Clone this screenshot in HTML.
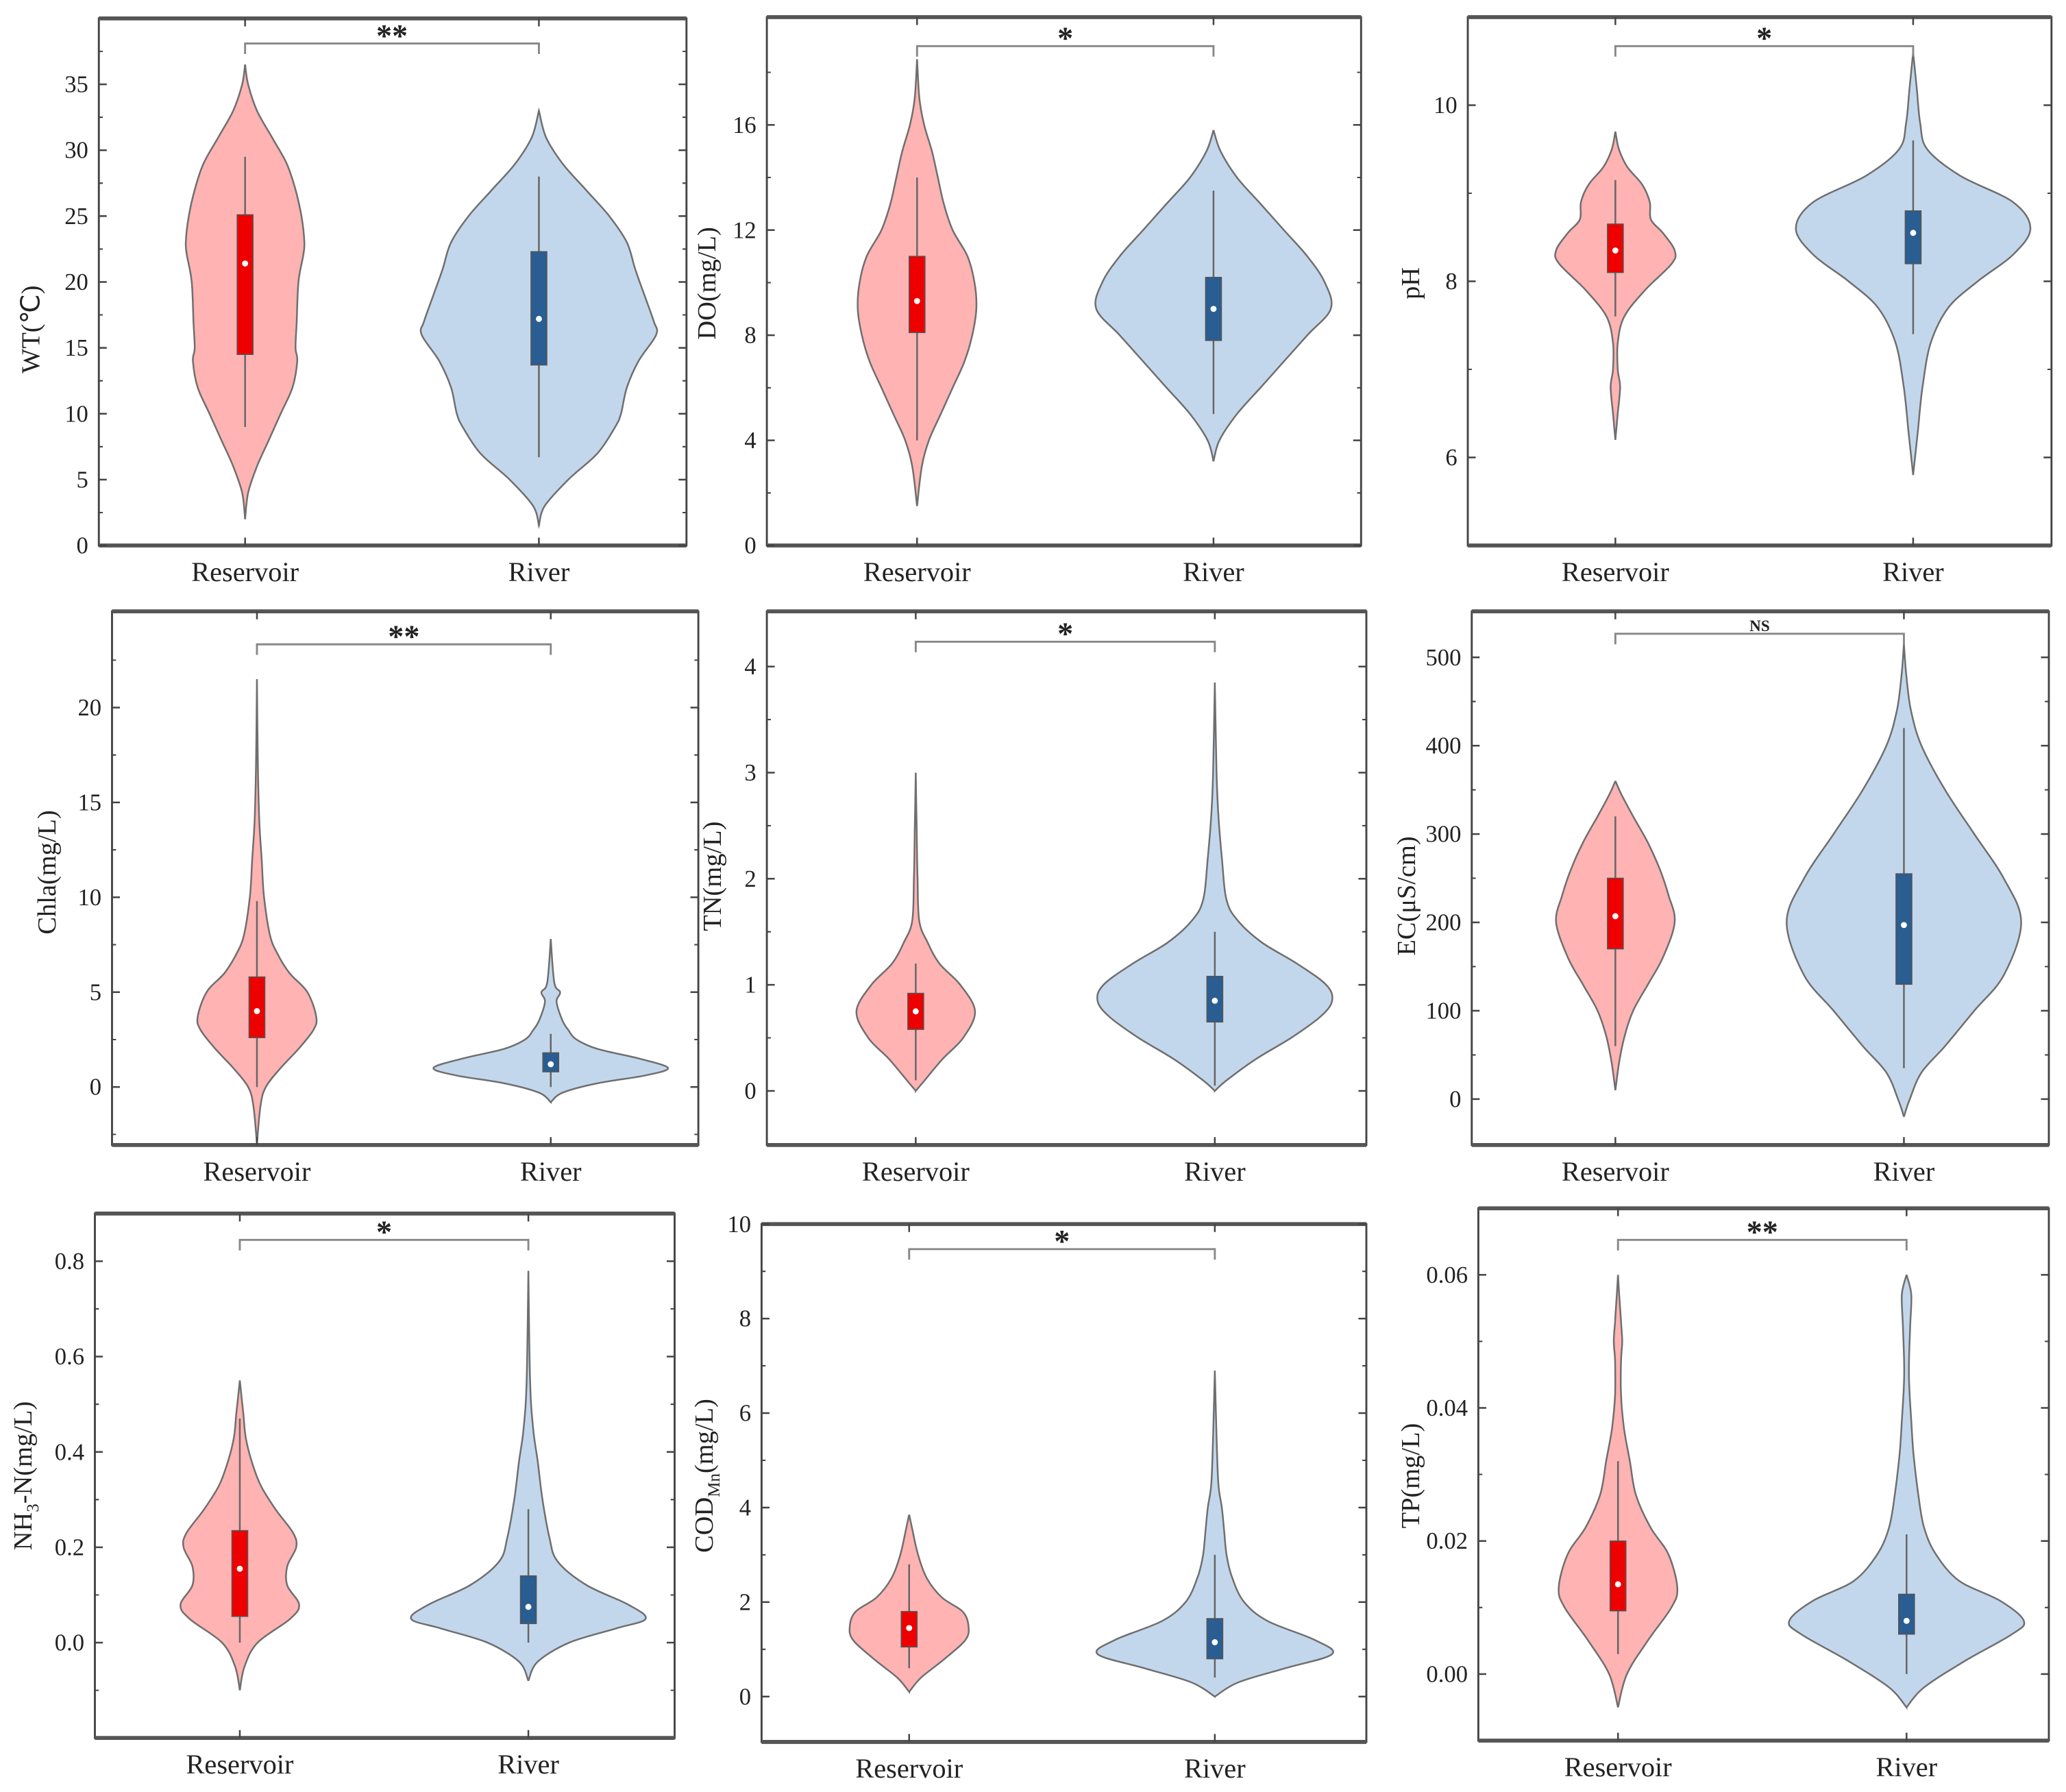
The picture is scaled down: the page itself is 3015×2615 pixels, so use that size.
<!DOCTYPE html>
<html><head><meta charset="utf-8">
<style>
html,body{margin:0;padding:0;background:#fff;}
svg{display:block;}
text{font-family:"Liberation Serif",serif;fill:#222;}
</style></head>
<body>
<svg id="chart" width="3015" height="2615" viewBox="0 0 1568 1360" xmlns="http://www.w3.org/2000/svg"></svg>
<script>
const categories = ['Reservoir','River'];

// WT
const wtTicks = [0,5,10,15,20,25,30,35];
const wtResVals = [2,4,6,8,10,12,14,15,17,20,22,23,25,27,29,31,33,35,36.5];
const wtResDens = [0,0.05,0.2,0.4,0.6,0.8,0.88,0.85,0.87,0.9,0.98,1,0.95,0.85,0.7,0.45,0.2,0.05,0];
const wtResBox = [14.5,21.4,25.1,9,29.5];
const wtRivVals = [1.5,3,5,7,9,10,12,14,16,17,19,21,23,25,27,29,31,33];
const wtRivDens = [0,0.05,0.25,0.5,0.65,0.7,0.75,0.85,1,0.98,0.9,0.82,0.75,0.6,0.4,0.2,0.06,0];
const wtRivBox = [13.7,17.2,22.3,6.7,28];
// DO
const doTicks = [0,4,8,12,16];
const doResVals = [1.5,3,4,5,6,7,8,9,10,11,12,13,14,15,16,17,18.5];
const doResDens = [0,0.08,0.2,0.4,0.6,0.8,0.93,1,0.97,0.85,0.6,0.45,0.35,0.25,0.12,0.04,0];
const doResBox = [8.1,9.3,11,4,14];
const doRivVals = [3.2,4,5,6,7,8,9,10,11,12,13,14,15,15.8];
const doRivDens = [0,0.05,0.2,0.4,0.6,0.8,1,0.95,0.8,0.6,0.4,0.2,0.06,0];
const doRivBox = [7.8,9,10.2,5,13.5];
// pH
const phTicks = [6,8,10];
const phResVals = [6.2,6.5,6.8,7.0,7.3,7.6,7.9,8.2,8.35,8.55,8.7,8.9,9.1,9.3,9.5,9.7];
const phResDens = [0,0.04,0.08,0.04,0.04,0.15,0.5,0.95,1,0.8,0.6,0.58,0.45,0.2,0.06,0];
const phResBox = [8.1,8.35,8.65,7.6,9.15];
const phRivVals = [5.8,6.3,6.8,7.3,7.7,8.0,8.3,8.6,8.9,9.2,9.5,9.8,10.2,10.6];
const phRivDens = [0,0.04,0.08,0.15,0.3,0.55,0.85,1,0.85,0.4,0.12,0.06,0.03,0];
const phRivBox = [8.2,8.55,8.8,7.4,9.6];
// Chla
const chTicks = [0,5,10,15,20];
const chResVals = [-3,-1,0,1,2,3,3.7,5,6,7,8,10,12,14,17,21.5];
const chResDens = [0,0.06,0.15,0.4,0.7,0.95,1,0.85,0.55,0.35,0.22,0.12,0.08,0.04,0.015,0];
const chResBox = [2.6,4,5.8,0,9.8];
const chRivVals = [-0.8,-0.3,0.2,0.6,1.0,1.5,2,2.5,3,3.5,4.5,5,5.5,7.8];
const chRivDens = [0,0.1,0.4,0.8,1,0.75,0.4,0.22,0.15,0.1,0.05,0.08,0.03,0];
const chRivBox = [0.8,1.2,1.8,0,2.8];
// TN
const tnTicks = [0,1,2,3,4];
const tnResVals = [0,0.1,0.3,0.5,0.75,1.0,1.2,1.4,1.6,2,2.5,3];
const tnResDens = [0,0.15,0.45,0.8,1,0.75,0.4,0.2,0.06,0.03,0.015,0];
const tnResBox = [0.58,0.75,0.92,0.1,1.2];
const tnRivVals = [0,0.1,0.3,0.5,0.7,0.85,1.0,1.2,1.4,1.6,1.8,2.2,2.6,3,3.85];
const tnRivDens = [0,0.1,0.35,0.65,0.9,1,0.95,0.7,0.4,0.2,0.1,0.06,0.03,0.015,0];
const tnRivBox = [0.65,0.85,1.08,0.05,1.5];
// EC
const ecTicks = [0,100,200,300,400,500];
const ecResVals = [10,40,70,100,130,160,200,230,260,290,320,345,360];
const ecResDens = [0,0.06,0.15,0.3,0.55,0.8,1,0.9,0.75,0.55,0.3,0.1,0];
const ecResBox = [170,207,250,60,320];
const ecRivVals = [-20,0,30,60,100,140,200,250,300,350,400,440,480,515];
const ecRivDens = [0,0.05,0.15,0.35,0.6,0.85,1,0.85,0.6,0.35,0.15,0.06,0.02,0];
const ecRivBox = [130,197,255,35,420];
// NH3-N
const nhTicks = [0,0.2,0.4,0.6,0.8];
const nhResVals = [-0.1,-0.05,0,0.05,0.08,0.12,0.16,0.2,0.23,0.28,0.33,0.38,0.43,0.48,0.55];
const nhResDens = [0,0.08,0.3,0.85,1,0.8,0.8,0.95,0.9,0.6,0.35,0.2,0.1,0.06,0];
const nhResBox = [0.055,0.155,0.235,0,0.47];
const nhRivVals = [-0.08,-0.04,0,0.03,0.05,0.08,0.12,0.17,0.22,0.3,0.38,0.45,0.55,0.78];
const nhRivDens = [0,0.08,0.35,0.75,1,0.85,0.5,0.25,0.18,0.12,0.08,0.04,0.015,0];
const nhRivBox = [0.04,0.075,0.14,0,0.28];
// COD
const coTicks = [0,2,4,6,8,10];
const coResVals = [0.1,0.4,0.8,1.2,1.5,1.8,2.1,2.5,3,3.5,3.85];
const coResDens = [0,0.2,0.6,0.95,1,0.9,0.55,0.3,0.15,0.06,0];
const coResBox = [1.05,1.45,1.8,0.6,2.8];
const coRivVals = [0,0.3,0.6,0.9,1.2,1.6,2,2.5,3,3.5,4,4.5,5.5,6.9];
const coRivDens = [0,0.2,0.6,1,0.85,0.45,0.25,0.15,0.1,0.08,0.06,0.03,0.015,0];
const coRivBox = [0.8,1.15,1.65,0.4,3];
// TP
const tpTicks = [0,0.02,0.04,0.06];
const tpResVals = [-0.005,0,0.005,0.01,0.013,0.018,0.022,0.027,0.032,0.037,0.042,0.047,0.05,0.053,0.057,0.06];
const tpResDens = [0,0.15,0.5,0.9,1,0.85,0.55,0.3,0.2,0.1,0.05,0.05,0.07,0.05,0.02,0];
const tpResBox = [0.0095,0.0135,0.02,0.003,0.032];
const tpRivVals = [-0.005,-0.002,0.002,0.006,0.008,0.011,0.014,0.018,0.022,0.027,0.033,0.038,0.045,0.052,0.057,0.06];
const tpRivDens = [0,0.15,0.5,0.9,1,0.8,0.45,0.25,0.15,0.1,0.06,0.04,0.02,0.03,0.04,0];
const tpRivBox = [0.006,0.008,0.012,0,0.021];

const panels = [
 {id:'wt',title:'WT(℃)',sig:'**',rect:[75,14,521,414],dom:[0,40],cx:[186,409],ticks:wtTicks,dec:0,tx:30,ty:250,br:33,
  v:[[wtResVals,wtResDens,wtResBox],[wtRivVals,wtRivDens,wtRivBox]]},
 {id:'do',title:'DO(mg/L)',sig:'*',rect:[582,13,1033,414],dom:[0,20.1],cx:[696,921],ticks:doTicks,dec:0,tx:543,ty:215,br:35,
  v:[[doResVals,doResDens,doResBox],[doRivVals,doRivDens,doRivBox]]},
 {id:'ph',title:'pH',sig:'*',rect:[1114,13,1557,414],dom:[5,11],cx:[1226,1452],ticks:phTicks,dec:0,tx:1077,ty:215,br:35,
  v:[[phResVals,phResDens,phResBox],[phRivVals,phRivDens,phRivBox]]},
 {id:'chla',title:'Chla(mg/L)',sig:'**',rect:[85,464,530,869],dom:[-3.06,25.07],cx:[195,418],ticks:chTicks,dec:0,tx:42,ty:662,br:489,
  v:[[chResVals,chResDens,chResBox],[chRivVals,chRivDens,chRivBox]]},
 {id:'tn',title:'TN(mg/L)',sig:'*',rect:[582,464,1037,869],dom:[-0.51,4.52],cx:[695,922],ticks:tnTicks,dec:0,tx:547,ty:665,br:487,
  v:[[tnResVals,tnResDens,tnResBox],[tnRivVals,tnRivDens,tnRivBox]]},
 {id:'ec',title:'EC(μS/cm)',sig:'NS',rect:[1117,464,1555,869],dom:[-52,552],cx:[1226,1445],ticks:ecTicks,dec:0,tx:1074,ty:680,br:481,
  v:[[ecResVals,ecResDens,ecResBox],[ecRivVals,ecRivDens,ecRivBox]]},
 {id:'nh',title:'NH<tspan font-size="13" dy="5">3</tspan><tspan dy="-5">-N(mg/L)</tspan>',sig:'*',rect:[72,921,512,1319],dom:[-0.2,0.9],cx:[182,401],ticks:nhTicks,dec:1,tx:24,ty:1120,br:941,
  v:[[nhResVals,nhResDens,nhResBox],[nhRivVals,nhRivDens,nhRivBox]]},
 {id:'cod',title:'COD<tspan font-size="13" dy="5">Mn</tspan><tspan dy="-5">(mg/L)</tspan>',sig:'*',rect:[578,929,1037,1322],dom:[-0.96,10],cx:[690,922],ticks:coTicks,dec:0,tx:541,ty:1120,br:948,
  v:[[coResVals,coResDens,coResBox],[coRivVals,coRivDens,coRivBox]]},
 {id:'tp',title:'TP(mg/L)',sig:'**',rect:[1122,917,1555,1321],dom:[-0.01,0.07],cx:[1228,1447],ticks:tpTicks,dec:2,tx:1077,ty:1120,br:941,
  v:[[tpResVals,tpResDens,tpResBox],[tpRivVals,tpRivDens,tpRivBox]]}
];
const styles = [{fill:'#ffb3b3',box:'#ee0000',hw:45},{fill:'#c3d7ec',box:'#2a5d91',hw:89}];
const NS='http://www.w3.org/2000/svg';
const svg=document.getElementById('chart');
function mk(tag,attrs,parent){const e=document.createElementNS(NS,tag);for(const k in attrs)e.setAttribute(k,attrs[k]);(parent||svg).appendChild(e);return e;}
function smooth(pts){let d='M'+pts[0][0]+','+pts[0][1];
 for(let i=0;i<pts.length-1;i++){const p0=pts[i-1]||pts[i],p1=pts[i],p2=pts[i+1],p3=pts[i+2]||p2;
  const c1=[p1[0]+(p2[0]-p0[0])/6,p1[1]+(p2[1]-p0[1])/6],c2=[p2[0]-(p3[0]-p1[0])/6,p2[1]-(p3[1]-p1[1])/6];
  d+=' C'+c1[0].toFixed(1)+','+c1[1].toFixed(1)+' '+c2[0].toFixed(1)+','+c2[1].toFixed(1)+' '+p2[0].toFixed(1)+','+p2[1].toFixed(1);}
 return d;}
panels.forEach(p=>{
 const [x0,y0,x1,y1]=p.rect;
 const Y=v=>y1-(v-p.dom[0])/(p.dom[1]-p.dom[0])*(y1-y0);
 const g=mk('g',{});
 
 
 // violins
 p.v.forEach((vv,i)=>{
  const [vals,dens,box]=vv,st=styles[i],cx=p.cx[i];
  const right=vals.map((v,k)=>[cx+dens[k]*st.hw,Y(v)]);
  const left=vals.map((v,k)=>[cx-dens[k]*st.hw,Y(v)]).reverse();
  const d=smooth(right)+' L'+smooth(left).slice(1)+' Z';
  const vp=mk('path',{d:d,fill:st.fill,stroke:'#6f6f6f','stroke-width':1.3},g);
  
  
  const wl=mk('line',{x1:cx,x2:cx,y1:Y(box[3]),y2:Y(box[4]),stroke:'#666','stroke-width':1.3},g);
  
  
  const bx=mk('rect',{x:cx-6,y:Y(box[2]),width:12,height:Y(box[0])-Y(box[2]),fill:st.box,stroke:'#555','stroke-width':0.8},g);
  
  
  const md=mk('circle',{cx:cx,cy:Y(box[1]),r:2.3,fill:'#fff'},g);
  
  
 });
 // frame
 const fr=mk('rect',{x:x0,y:y0,width:x1-x0,height:y1-y0,fill:'none',stroke:'#444','stroke-width':1.5},g);
 
 
 mk('line',{x1:x0,x2:x1,y1:y0,y2:y0,stroke:'#555','stroke-width':3},g);
 mk('line',{x1:x0,x2:x1,y1:y1,y2:y1,stroke:'#555','stroke-width':3},g);
 // y ticks
 const step=p.ticks[1]-p.ticks[0];
 p.ticks.forEach(t=>{
  const y=Y(t);
  mk('line',{x1:x0,x2:x0+6,y1:y,y2:y,stroke:'#444','stroke-width':1.3},g);
  mk('line',{x1:x1,x2:x1-6,y1:y,y2:y,stroke:'#444','stroke-width':1.3},g);
  [t-step/2,t+step/2].forEach(m=>{const ym=Y(m);if(ym>y0+2&&ym<y1-2){
   mk('line',{x1:x0,x2:x0+3,y1:ym,y2:ym,stroke:'#444','stroke-width':1},g);
   mk('line',{x1:x1,x2:x1-3,y1:ym,y2:ym,stroke:'#444','stroke-width':1},g);}});
  const tl=mk('text',{x:x0-8,y:y+6,'text-anchor':'end','font-size':18},g);
  tl.textContent=t.toFixed(p.dec);
  
  
 });
 // x ticks & labels
 p.cx.forEach((cx,i)=>{
  mk('line',{x1:cx,x2:cx,y1:y1,y2:y1-6,stroke:'#444','stroke-width':1.3},g);
  mk('line',{x1:cx,x2:cx,y1:y0,y2:y0+6,stroke:'#444','stroke-width':1.3},g);
  const xl=mk('text',{x:cx,y:y1+27,'text-anchor':'middle','font-size':21},g);
  xl.textContent=categories[i];
  
  
 });
 // y title
 const yt=mk('text',{x:p.tx,y:p.ty,'text-anchor':'middle','font-size':20,transform:'rotate(-90 '+p.tx+' '+p.ty+')'},g);
 yt.innerHTML=p.title;
 
 
 // significance bracket
 const b=p.br;
 const bp=mk('path',{d:'M'+p.cx[0]+','+(b+8)+' V'+b+' H'+p.cx[1]+' V'+(b+8),fill:'none',stroke:'#888','stroke-width':1.5},g);
 
 
 const sg=mk('text',{x:(p.cx[0]+p.cx[1])/2,y:p.sig==='NS'?b-2:b+2,'text-anchor':'middle','font-size':p.sig==='NS'?12:24,'font-weight':'bold'},g);
 sg.textContent=p.sig;
 
 
});
</script>
</body></html>
